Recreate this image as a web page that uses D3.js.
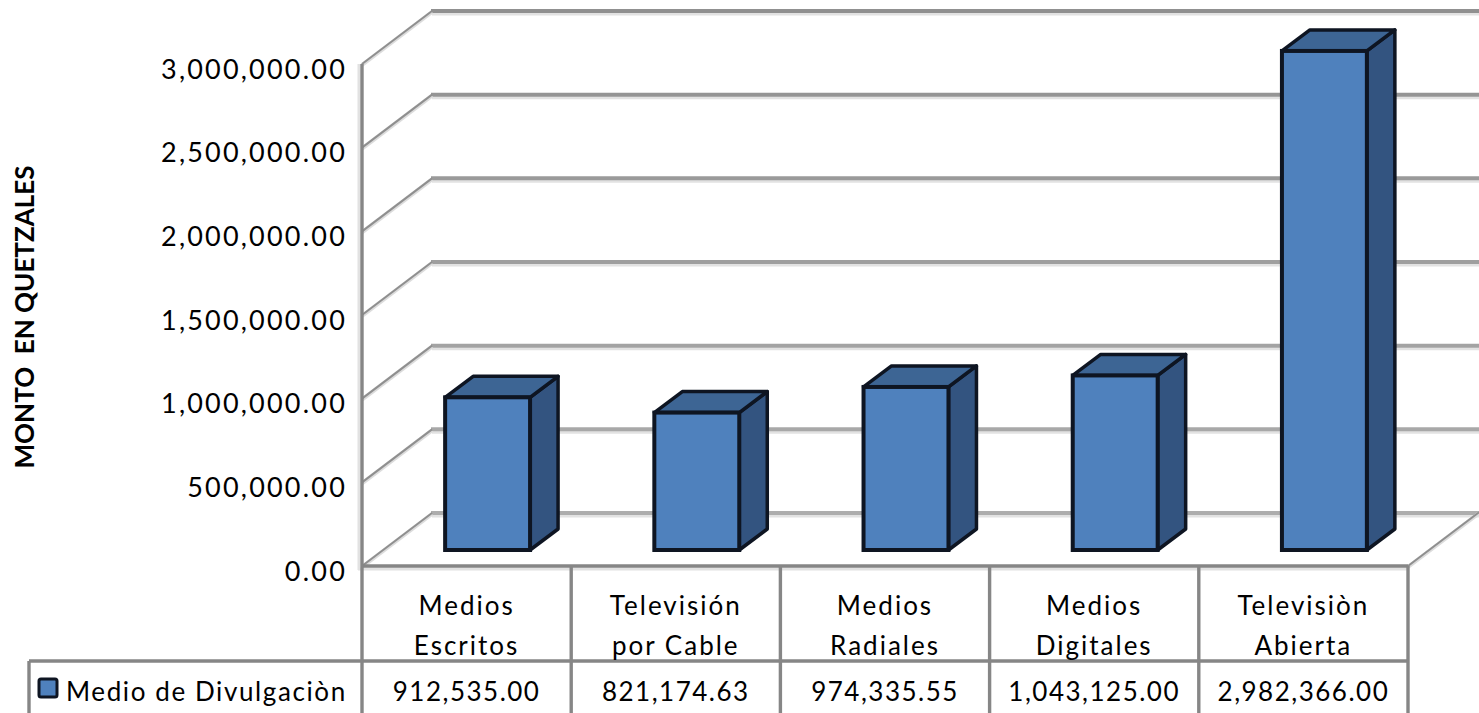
<!DOCTYPE html>
<html>
<head>
<meta charset="utf-8">
<script src="https://cdnjs.cloudflare.com/ajax/libs/d3/7.8.5/d3.min.js"></script>
<style>
html, body { margin: 0; padding: 0; background: #fff; overflow: hidden; }
text { font-family: Lato, "Noto Sans", sans-serif; fill: #000; }
</style>
</head>
<body>
<div id="chart"></div>
<script>
const categories = ["Medios Escritos", "Televisión por Cable", "Medios Radiales", "Medios Digitales", "Televisiòn Abierta"];
const categoryFirstLine = ["Medios", "Televisión", "Medios", "Medios", "Televisiòn"];
const categorySecondLine = ["Escritos", "por Cable", "Radiales", "Digitales", "Abierta"];
const values = [912535.00, 821174.63, 974335.55, 1043125.00, 2982366.00];
const tickValues = [0, 500000, 1000000, 1500000, 2000000, 2500000, 3000000];
const seriesName = "Medio de Divulgaciòn";
const axisTitle = "MONTO  EN QUETZALES";

const width = 1479, height = 713;
const fmt = d3.format(",.2f");

const plot = { left: 362, right: 1408, top: 64, bottom: 566 };
const wall = { dx: 70, dy: -53 };     // depth of the chart box
const inset = { dx: 21, dy: -16 };    // bar front face sits inside the box
const depth = { dx: 28, dy: -21 };    // depth of each bar
const table = { rowLine: 661, legendLeft: 29 };

const svg = d3.select("#chart").append("svg")
    .attr("width", width)
    .attr("height", height)
    .style("display", "block");

const x = d3.scaleBand().domain(categories).range([plot.left, plot.right]).paddingInner(0.594).paddingOuter(0.297);
const cell = d3.scaleBand().domain(categories).range([plot.left, plot.right]);
const y = d3.scaleLinear().domain([0, 3000000]).range([plot.bottom, plot.top]);

// light shadow under the back wall gridlines, then the lines
const grid = svg.append("g");
grid.selectAll("line.shade")
    .data(tickValues)
    .join("line")
    .attr("class", "shade")
    .attr("x1", plot.left + wall.dx)
    .attr("x2", width)
    .attr("y1", d => y(d) + wall.dy + 3)
    .attr("y2", d => y(d) + wall.dy + 3)
    .attr("stroke", "#e2e2e2")
    .attr("stroke-width", 3);
grid.selectAll("line.major")
    .data(tickValues)
    .join("line")
    .attr("class", "major")
    .attr("x1", plot.left + wall.dx - 1)
    .attr("x2", width)
    .attr("y1", d => y(d) + wall.dy)
    .attr("y2", d => y(d) + wall.dy)
    .attr("stroke", d => d3.interpolateRgb("#adadad", "#909090")(d / 3000000))
    .attr("stroke-width", 4);

const sides = svg.append("g");
sides.selectAll("line.halo")
    .data(tickValues)
    .join("line")
    .attr("class", "halo")
    .attr("x1", plot.left)
    .attr("x2", plot.left + wall.dx)
    .attr("y1", d => y(d) + 1)
    .attr("y2", d => y(d) + wall.dy + 1)
    .attr("stroke", "#dcdcdc")
    .attr("stroke-width", 4);
sides.selectAll("line.edge")
    .data(tickValues)
    .join("line")
    .attr("class", "edge")
    .attr("x1", plot.left)
    .attr("x2", plot.left + wall.dx)
    .attr("y1", d => y(d))
    .attr("y2", d => y(d) + wall.dy)
    .attr("stroke", "#8f8f8f")
    .attr("stroke-width", 2);

// floor edge on the right
const floorEndY = plot.bottom + wall.dy * (width - plot.right) / wall.dx;
svg.append("line")
    .attr("x1", plot.right).attr("y1", plot.bottom + 1)
    .attr("x2", width).attr("y2", floorEndY + 1)
    .attr("stroke", "#dcdcdc").attr("stroke-width", 4);
svg.append("line")
    .attr("x1", plot.right).attr("y1", plot.bottom)
    .attr("x2", width).attr("y2", floorEndY)
    .attr("stroke", "#8f8f8f").attr("stroke-width", 2);

// light band along the wall and under the floor edge
svg.append("line")
    .attr("x1", plot.left - 3).attr("x2", plot.left - 3)
    .attr("y1", plot.top).attr("y2", plot.bottom + 4)
    .attr("stroke", "#e2e2e2").attr("stroke-width", 3);
svg.append("line")
    .attr("x1", plot.left - 4).attr("x2", plot.right)
    .attr("y1", plot.bottom + 3).attr("y2", plot.bottom + 3)
    .attr("stroke", "#e2e2e2").attr("stroke-width", 3);

// bars
const bars = svg.append("g").selectAll("g")
    .data(categories.map((c, i) => ({ c, v: values[i] })))
    .join("g");

const x0 = d => x(d.c) + inset.dx;
const x1 = d => x0(d) + x.bandwidth();
const yTop = d => y(d.v) + inset.dy;
const yBase = y(0) + inset.dy;

bars.append("path") // side
    .attr("d", d => `M${x1(d)},${yTop(d)}L${x1(d) + depth.dx},${yTop(d) + depth.dy}L${x1(d) + depth.dx},${yBase + depth.dy}L${x1(d)},${yBase}Z`)
    .attr("fill", "#335480")
    .attr("stroke", "#0e1522")
    .attr("stroke-width", 3.5)
    .attr("stroke-linejoin", "round");
bars.append("path") // top
    .attr("d", d => `M${x0(d)},${yTop(d)}L${x0(d) + depth.dx},${yTop(d) + depth.dy}L${x1(d) + depth.dx},${yTop(d) + depth.dy}L${x1(d)},${yTop(d)}Z`)
    .attr("fill", "#3d6594")
    .attr("stroke", "#0e1522")
    .attr("stroke-width", 3.5)
    .attr("stroke-linejoin", "round");
bars.append("rect") // front
    .attr("x", x0)
    .attr("y", yTop)
    .attr("width", x.bandwidth())
    .attr("height", d => yBase - yTop(d))
    .attr("fill", "#4f81bd")
    .attr("stroke", "#0e1522")
    .attr("stroke-width", 4);

// value axis
const axis = svg.append("g")
    .attr("transform", `translate(${plot.left},5)`)
    .call(d3.axisLeft(y).tickValues(tickValues).tickSize(0).tickPadding(0).tickFormat(fmt));
axis.select(".domain").remove();
axis.selectAll("text")
    .attr("x", -15)
    .attr("dy", "0.34em")
    .style("font-size", "27px")
    .style("letter-spacing", "2.2px");

svg.append("text")
    .attr("transform", "translate(34,317) rotate(-90)")
    .attr("text-anchor", "middle")
    .style("font-size", "26px")
    .style("font-weight", 700)
    .style("white-space", "pre")
    .text(axisTitle);

// data table
const gridColor = "#868686";
const tbl = svg.append("g").attr("stroke", gridColor).attr("stroke-width", 3.4);
tbl.append("line").attr("x1", plot.left).attr("x2", plot.right).attr("y1", plot.bottom).attr("y2", plot.bottom);
tbl.append("line").attr("x1", table.legendLeft).attr("x2", plot.right).attr("y1", table.rowLine).attr("y2", table.rowLine);
tbl.append("line").attr("x1", table.legendLeft).attr("x2", table.legendLeft).attr("y1", table.rowLine).attr("y2", height);
tbl.append("line").attr("x1", plot.left).attr("x2", plot.left).attr("y1", plot.top).attr("y2", height);
tbl.selectAll("line.col")
    .data(categories)
    .join("line")
    .attr("class", "col")
    .attr("x1", d => cell(d) + cell.bandwidth())
    .attr("x2", d => cell(d) + cell.bandwidth())
    .attr("y1", plot.bottom)
    .attr("y2", height);

const cellMid = d => cell(d) + cell.bandwidth() / 2;
const tableText = (cls, rowY, spacing, fn) => svg.append("g").selectAll("text")
    .data(categories)
    .join("text")
    .attr("class", cls)
    .attr("x", cellMid)
    .attr("y", rowY)
    .attr("text-anchor", "middle")
    .style("font-size", "26px")
    .style("letter-spacing", spacing)
    .text((d, i) => fn(i));

tableText("cat1", 615, "2px", i => categoryFirstLine[i]);
tableText("cat2", 655, "2px", i => categorySecondLine[i]);
tableText("val", 701, "1.5px", i => fmt(values[i]));

// legend key
svg.append("rect")
    .attr("x", 39).attr("y", 679).attr("width", 18).attr("height", 18)
    .attr("rx", 2)
    .attr("fill", "#4f81bd")
    .attr("stroke", "#0e1522")
    .attr("stroke-width", 3);
svg.append("text")
    .attr("x", 66).attr("y", 701)
    .style("font-size", "26px")
    .style("letter-spacing", "1.6px")
    .text(seriesName);
</script>
</body>
</html>
